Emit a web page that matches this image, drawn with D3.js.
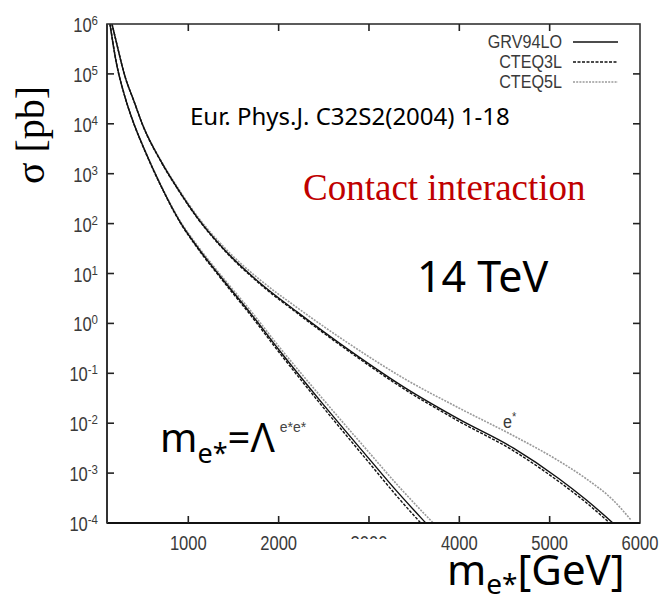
<!DOCTYPE html>
<html>
<head>
<meta charset="utf-8">
<script src="https://cdn.jsdelivr.net/npm/d3@7"></script>
<style>
  body { margin: 0; background: #fff; }
  svg { display: block; }
</style>
</head>
<body>
<div id="chart-area"></div>
<script>
// masses in GeV, cross sections in pb
const massLambda = [133, 200, 300, 400, 500, 700, 900, 1100, 1400, 1700, 2000, 2500, 3000, 3300, 3650, 3750]
const grvLambda  = [1.0e6, 1.8e5, 3.4e4, 9.8e3, 3.5e3, 560, 115, 34, 6.9, 1.5, 0.30, 0.023, 1.95e-3, 4.5e-4, 9.1e-5, 5.8e-5]
const cteq3Lambda = [1.02e6, 1.82e5, 3.4e4, 9.7e3, 3.45e3, 548, 112, 32.5, 6.5, 1.38, 0.27, 0.020, 1.62e-3, 3.6e-4, 7.0e-5, 4.4e-5]
const cteq5Lambda = [0.97e6, 1.75e5, 3.35e4, 9.8e3, 3.55e3, 575, 120, 36.5, 7.6, 1.7, 0.35, 0.029, 2.6e-3, 6.2e-4, 1.3e-4, 8.5e-5]

const massEstar = [155, 200, 300, 400, 500, 700, 900, 1100, 1400, 1800, 2200, 2800, 3400, 4000, 4600, 5100, 5400, 5700, 5900]
const grvEstar  = [1.0e6, 4.6e5, 8.8e4, 2.8e4, 9.0e3, 1.74e3, 447, 132, 30, 6.3, 1.72, 0.275, 0.051, 0.0119, 3.16e-3, 7.8e-4, 2.95e-4, 1.0e-4, 4.6e-5]
const cteq3Estar = [1.02e6, 4.65e5, 8.8e4, 2.78e4, 8.9e3, 1.71e3, 438, 129, 29, 6.0, 1.63, 0.258, 0.047, 0.0108, 2.8e-3, 6.8e-4, 2.6e-4, 8.7e-5, 4.0e-5]
const cteq5Estar = [0.97e6, 4.5e5, 8.7e4, 2.8e4, 9.1e3, 1.8e3, 470, 141, 33, 7.3, 2.1, 0.37, 0.0765, 0.020, 5.6e-3, 1.76e-3, 7.8e-4, 2.9e-4, 1.15e-4]

const xTicks = [1000, 2000, 3000, 4000, 5000, 6000]
const yExponents = [6, 5, 4, 3, 2, 1, 0, -1, -2, -3, -4]
const pdfNames = ["GRV94LO", "CTEQ3L", "CTEQ5L"]

const MARGIN = { LEFT: 107, RIGHT: 24, TOP: 24, BOTTOM: 76 }
const WIDTH = 664 - MARGIN.LEFT - MARGIN.RIGHT
const HEIGHT = 599 - MARGIN.TOP - MARGIN.BOTTOM

const styles = [
    { stroke: "#111", dash: null, width: 1.4 },
    { stroke: "#111", dash: "3,1.5", width: 1.4 },
    { stroke: "#9a9a9a", dash: "2,1.2", width: 1.6 }
]

const svg = d3.select("#chart-area").append("svg")
    .attr("width", 664)
    .attr("height", 599)

const g = svg.append("g")
    .attr("transform", `translate(${MARGIN.LEFT}, ${MARGIN.TOP})`)

// Scales
const x = d3.scaleLinear()
    .range([0, WIDTH])
    .domain([100, 6000])

const y = d3.scaleLog()
    .range([HEIGHT, 0])
    .domain([1e-4, 1e6])

// gnuplot's narrow font: squeeze Liberation Sans horizontally
function narrowText(parent, px, py, anchor, size) {
    return parent.append("text")
        .attr("transform", `translate(${px}, ${py}) scale(0.85, 1)`)
        .attr("text-anchor", anchor)
        .attr("font-family", "'Liberation Sans', Arial, sans-serif")
        .attr("font-size", size)
        .attr("fill", "#3a3a3a")
}

g.append("clipPath").attr("id", "plot-clip")
    .append("rect").attr("width", WIDTH).attr("height", HEIGHT)

// Curves
const line = d3.line()
    .x(d => x(d[0]))
    .y(d => y(d[1]))
    .curve(d3.curveMonotoneX)

const curves = [
    [massLambda, cteq5Lambda, 2], [massEstar, cteq5Estar, 2],
    [massLambda, cteq3Lambda, 1], [massEstar, cteq3Estar, 1],
    [massLambda, grvLambda, 0], [massEstar, grvEstar, 0]
]
curves.forEach(([m, s, k]) => {
    g.append("path")
        .datum(m.map((v, i) => [v, s[i]]))
        .attr("clip-path", "url(#plot-clip)")
        .attr("fill", "none")
        .attr("stroke", styles[k].stroke)
        .attr("stroke-width", styles[k].width)
        .attr("stroke-dasharray", styles[k].dash)
        .attr("d", line)
})

// Frame and ticks (ticks inside)
g.append("rect")
    .attr("width", WIDTH).attr("height", HEIGHT)
    .attr("fill", "none").attr("stroke", "#333").attr("stroke-width", 1.6)
g.append("line").attr("x1", 0).attr("x2", WIDTH).attr("y1", HEIGHT).attr("y2", HEIGHT)
    .attr("stroke", "#111").attr("stroke-width", 2.2)
g.append("line").attr("x1", 0).attr("x2", 0).attr("y1", 0).attr("y2", HEIGHT)
    .attr("stroke", "#333").attr("stroke-width", 2)

xTicks.filter(t => t < 6000).forEach(t => {
    g.append("line").attr("x1", x(t)).attr("x2", x(t)).attr("y1", HEIGHT).attr("y2", HEIGHT - 7)
        .attr("stroke", "#222").attr("stroke-width", 1.6)
    g.append("line").attr("x1", x(t)).attr("x2", x(t)).attr("y1", 0).attr("y2", 7)
        .attr("stroke", "#222").attr("stroke-width", 1.6)
})
yExponents.slice(1, -1).forEach(e => {
    g.append("line").attr("x1", 0).attr("x2", 7).attr("y1", y(10 ** e)).attr("y2", y(10 ** e))
        .attr("stroke", "#222").attr("stroke-width", 1.6)
    g.append("line").attr("x1", WIDTH).attr("x2", WIDTH - 7).attr("y1", y(10 ** e)).attr("y2", y(10 ** e))
        .attr("stroke", "#222").attr("stroke-width", 1.6)
})

// Tick labels
xTicks.forEach(t => {
    narrowText(g, x(t), HEIGHT + 27, "middle", "19.5px").text(t)
})
yExponents.forEach(e => {
    const t = narrowText(g, -9, y(10 ** e) + 8, "end", "19.5px")
    t.append("tspan").text("10")
    t.append("tspan").attr("dy", -7).attr("font-size", "13.5px").text(e)
})

// white patch hiding most of the 3000 label, as in the scan
svg.append("rect").attr("x", 340).attr("y", 539).attr("width", 60).attr("height", 18).attr("fill", "#fff")

// Legend
pdfNames.forEach((name, i) => {
    const ly = 42 + i * 20
    narrowText(svg, 562, ly + 6, "end", "19px").text(name)
    svg.append("line").attr("x1", 573).attr("x2", 618).attr("y1", ly).attr("y2", ly)
        .attr("stroke", styles[i].stroke).attr("stroke-width", styles[i].width)
        .attr("stroke-dasharray", styles[i].dash)
})

// e* curve label
const eLab = narrowText(svg, 503, 428, "start", "19px")
eLab.append("tspan").text("e")
eLab.append("tspan").attr("dy", -7).attr("font-size", "13px").text("*")

// Axis titles
svg.append("text")
    .attr("transform", "translate(44, 135) rotate(-90)")
    .attr("text-anchor", "middle")
    .attr("font-family", "'Liberation Serif', 'Times New Roman', serif")
    .attr("font-size", "40px")
    .text("σ [pb]")

const xLabel = svg.append("text").attr("x", 447).attr("y", 585)
    .attr("font-family", "'Noto Sans', sans-serif").attr("font-size", "42px").attr("fill", "#000")
xLabel.append("tspan").text("m")
xLabel.append("tspan").attr("dy", 9).attr("font-size", "28px").text("e*")
xLabel.append("tspan").attr("dy", -9).text("[GeV]")

// Annotations
svg.append("text").attr("x", 190).attr("y", 125)
    .attr("font-family", "'Noto Sans', sans-serif").attr("font-size", "24px")
    .text("Eur. Phys.J. C32S2(2004) 1-18")

svg.append("text").attr("x", 303).attr("y", 200)
    .attr("font-family", "'Liberation Serif', 'Times New Roman', serif").attr("font-size", "37px")
    .attr("fill", "#c00000")
    .text("Contact interaction")

svg.append("text").attr("x", 417).attr("y", 292)
    .attr("font-family", "'Noto Sans', sans-serif").attr("font-size", "43px")
    .text("14 TeV")

const lamLab = svg.append("text").attr("x", 160).attr("y", 452)
    .attr("font-family", "'Noto Sans', sans-serif").attr("font-size", "40px")
lamLab.append("tspan").text("m")
lamLab.append("tspan").attr("dy", 11).attr("font-size", "27px").text("e*")
lamLab.append("tspan").attr("dy", -11).text("=Λ")
lamLab.append("tspan").attr("dy", -20).attr("dx", 5)
    .attr("font-family", "'Liberation Sans', Arial, sans-serif").attr("font-size", "14px").attr("fill", "#444")
    .text("e*e*")
</script>
</body>
</html>
